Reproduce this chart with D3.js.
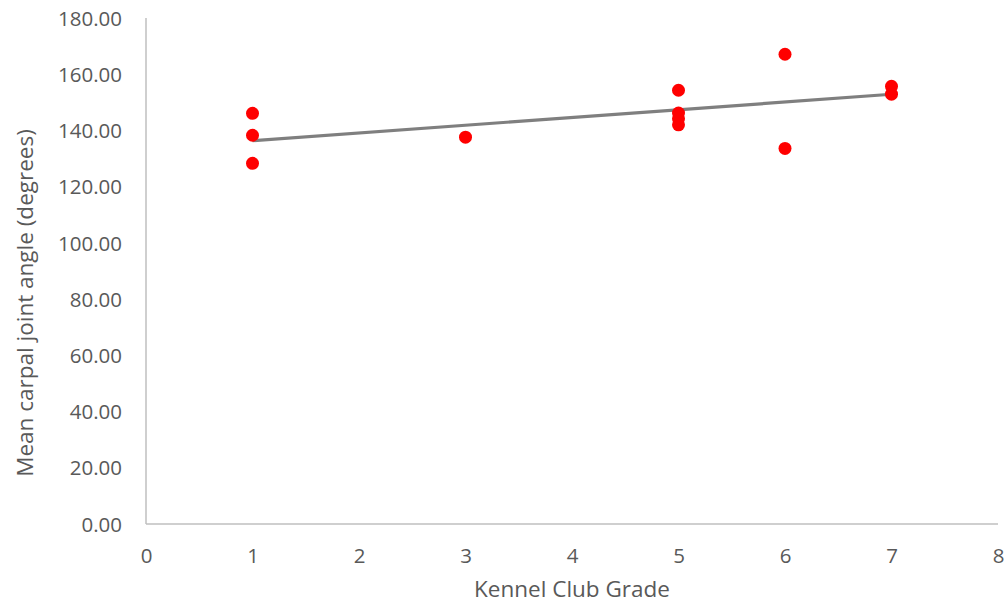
<!DOCTYPE html>
<html><head><meta charset="utf-8">
<script src="https://cdn.jsdelivr.net/npm/d3@7"></script>
<style>body{margin:0;background:#fff;} svg{display:block;}</style>
</head><body>
<svg id="c" width="1005" height="603"></svg>
<script>
const grades = [1,1,1,3,5,5,5,5,6,6,7,7];
const angles = [146.1,138.3,128.3,137.6,154.3,146.2,144.2,142.0,167.1,133.6,155.7,152.9];
const xTicks = [0,1,2,3,4,5,6,7,8];
const yTicks = [0,20,40,60,80,100,120,140,160,180];
const xTitle = "Kennel Club Grade";
const yTitle = "Mean carpal joint angle (degrees)";

const svg = d3.select("#c");
const font = "'Open Sans', sans-serif";
const L=146, R=998, T=18, B=524;
const x = d3.scaleLinear().domain([0,8]).range([L,R]);
const y = d3.scaleLinear().domain([0,180]).range([B,T]);

// axes
const xa = svg.append("g").attr("transform",`translate(0,${B})`)
  .call(d3.axisBottom(x).tickValues(xTicks).tickSize(0).tickPadding(24).tickFormat(d3.format("d")));
const ya = svg.append("g").attr("transform",`translate(${L},0)`)
  .call(d3.axisLeft(y).tickValues(yTicks).tickSize(0).tickPadding(24).tickFormat(d3.format(".2f")));
[xa,ya].forEach(a=>{
  a.select(".domain").attr("stroke","#bfbfbf").attr("stroke-width",1.5);
  a.selectAll("text").attr("fill","#595959").style("font-family",font).style("font-size","20.5px");
});
ya.select(".domain").attr("d",`M0,${T}V${B}`);
xa.select(".domain").attr("d",`M${L},0H${R}`);
ya.selectAll("text").attr("dy","0.35em");

// trendline (least squares)
const n=grades.length, mx=d3.mean(grades), my=d3.mean(angles);
let sxy=0,sxx=0;
for(let i=0;i<n;i++){sxy+=(grades[i]-mx)*(angles[i]-my);sxx+=(grades[i]-mx)**2;}
const slope=sxy/sxx, icpt=my-slope*mx;
const x0=d3.min(grades), x1=d3.max(grades);
svg.append("line").attr("x1",x(x0)).attr("y1",y(icpt+slope*x0))
  .attr("x2",x(x1)).attr("y2",y(icpt+slope*x1))
  .attr("stroke","#7f7f7f").attr("stroke-width",3.2);

// points
svg.append("g").selectAll("circle").data(grades.map((g,i)=>[g,angles[i]])).join("circle")
  .attr("cx",d=>x(d[0])).attr("cy",d=>y(d[1])).attr("r",6.5).attr("fill","#ff0000");

// titles
svg.append("text").attr("x",572).attr("y",597).attr("text-anchor","middle")
  .attr("fill","#595959").style("font-family",font).style("font-size","22.5px").text(xTitle);
svg.append("text").attr("transform",`translate(33,303) rotate(-90)`).attr("text-anchor","middle")
  .attr("fill","#595959").style("font-family",font).style("font-size","22.5px").text(yTitle);
</script>
</body></html>
